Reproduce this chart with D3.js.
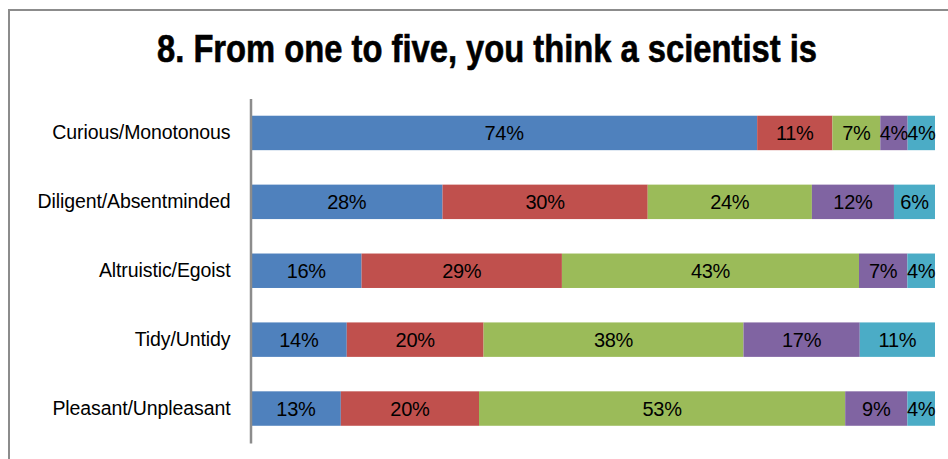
<!DOCTYPE html>
<html>
<head>
<meta charset="utf-8">
<script src="https://cdn.jsdelivr.net/npm/d3@7"></script>
<style>
  html, body { margin: 0; padding: 0; background: #fff; }
  svg { display: block; }
  text { font-family: "Liberation Sans", Arial, sans-serif; }
</style>
</head>
<body>
<svg id="chart" width="948" height="459"></svg>
<script>
// Survey answers, one row per adjective pair, five answer levels each
const categories = ["Curious/Monotonous", "Diligent/Absentminded", "Altruistic/Egoist", "Tidy/Untidy", "Pleasant/Unpleasant"];
const levels = ["1", "2", "3", "4", "5"];
const level1 = [74, 28, 16, 14, 13];
const level2 = [11, 30, 29, 20, 20];
const level3 = [7, 24, 43, 38, 53];
const level4 = [4, 12, 7, 17, 9];
const level5 = [4, 6, 4, 11, 4];
const colors = ["#4F81BD", "#C0504D", "#9BBB59", "#8064A2", "#4BACC6"];
const titleText = "8. From one to five, you think a scientist is";

const series = [level1, level2, level3, level4, level5];
const rows = categories.map((c, i) => {
  const r = { category: c };
  levels.forEach((k, j) => { r[k] = series[j][i]; });
  return r;
});

const svg = d3.select("#chart");

// chart frame
svg.append("rect")
  .attr("x", 9).attr("y", 10)
  .attr("width", 960).attr("height", 480)
  .attr("fill", "none")
  .attr("stroke", "#8c8c8c")
  .attr("stroke-width", 2);

// title
svg.append("text")
  .attr("x", 487).attr("y", 62)
  .attr("text-anchor", "middle")
  .style("font-family", "'Liberation Sans Narrow', 'Arial Narrow', 'Liberation Sans', Arial, sans-serif")
  .style("font-weight", "bold")
  .style("font-size", "38px")
  .style("stroke", "#000")
  .style("stroke-width", "0.6px")
  .attr("textLength", 660)
  .attr("lengthAdjust", "spacingAndGlyphs")
  .text(titleText);

const x = d3.scaleLinear().domain([0, 1]).range([251, 935]);
const y = d3.scaleBand().domain(categories).range([98.5, 443]).paddingInner(0.5).paddingOuter(0.25);

// 100% stacked layout
const stack = d3.stack().keys(levels).offset(d3.stackOffsetExpand);
const stacked = stack(rows);

const groups = svg.append("g").selectAll("g")
  .data(stacked)
  .join("g")
  .attr("fill", (d, i) => colors[i]);

groups.selectAll("rect")
  .data(d => d)
  .join("rect")
  .attr("x", d => x(d[0]))
  .attr("y", d => y(d.data.category))
  .attr("width", d => x(d[1]) - x(d[0]))
  .attr("height", y.bandwidth());

// value labels
groups.selectAll("text")
  .data(d => d.map(v => ({ v, key: d.key })))
  .join("text")
  .attr("x", d => (x(d.v[0]) + x(d.v[1])) / 2)
  .attr("y", d => y(d.v.data.category) + y.bandwidth() / 2)
  .attr("dy", "0.36em")
  .attr("text-anchor", "middle")
  .attr("fill", "#000")
  .style("font-size", "20px")
  .style("letter-spacing", "-0.3px")
  .text(d => d.v.data[d.key] + "%");

// category axis
const axis = svg.append("g")
  .attr("transform", "translate(250.5,0)")
  .call(d3.axisLeft(y).tickSize(0).tickPadding(20));
axis.select(".domain")
  .attr("stroke", "#8c8c8c")
  .attr("stroke-width", 2.5);
axis.selectAll(".tick text")
  .attr("fill", "#000")
  .style("font-family", "'Liberation Sans', Arial, sans-serif")
  .style("font-size", "19.5px")
  .style("letter-spacing", "-0.1px");
</script>
</body>
</html>
